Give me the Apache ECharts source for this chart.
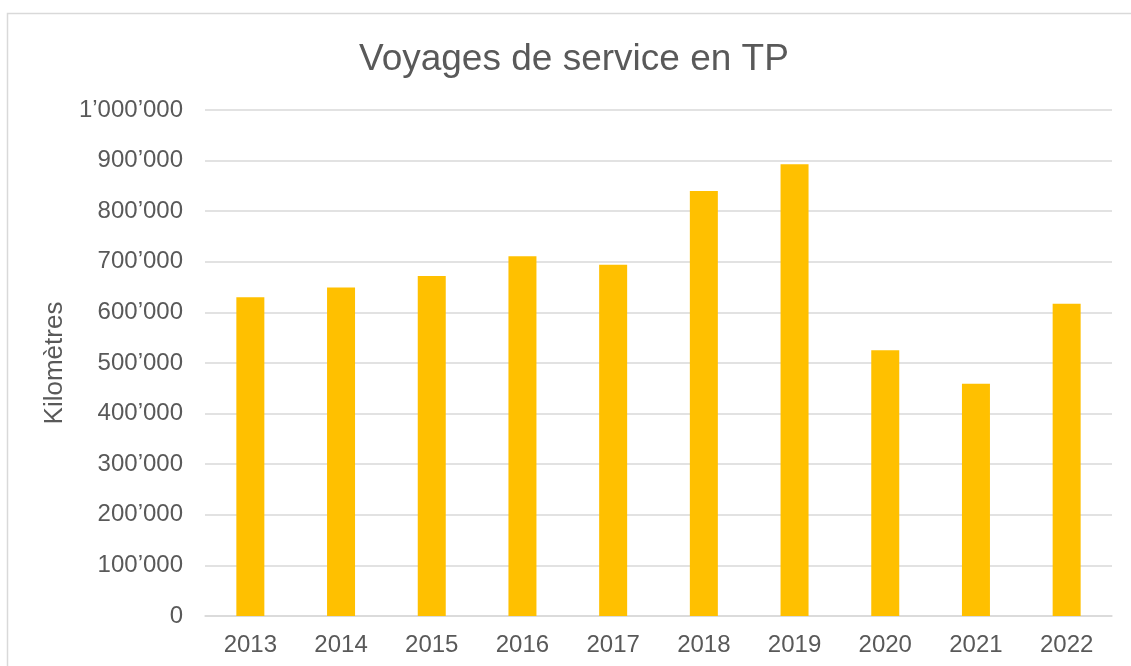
<!DOCTYPE html>
<html>
<head>
<meta charset="utf-8">
<script src="https://cdn.jsdelivr.net/npm/echarts@6/dist/echarts.min.js"></script>
<style>
  html, body { margin: 0; padding: 0; background: #fff; }
  #chart { width: 1131px; height: 666px; }
</style>
</head>
<body>
<div id="chart"></div>
<script>
const years = ['2013', '2014', '2015', '2016', '2017', '2018', '2019', '2020', '2021', '2022'];
const km = [630000, 649000, 672000, 711000, 694000, 840000, 893000, 525000, 459000, 617000];

var myChart = echarts.init(document.getElementById('chart'));

// 1'000'000 style with typographic apostrophe
function fmt(v) {
    return String(v).replace(/\B(?=(\d{3})+(?!\d))/g, '\u2019');
}

const option = {
    backgroundColor: '#FFF',
    textStyle: { fontFamily: 'Liberation Sans, Arial, sans-serif' },
    graphic: [
        {
            type: 'rect',
            shape: { x: 7.5, y: 13.5, width: 1130, height: 700 },
            style: { fill: 'none', stroke: '#d9d9d9', lineWidth: 1.5 },
            silent: true
        }
    ],
    title: {
        text: 'Voyages de service en TP',
        left: 354,
        top: 36,
        textStyle: {
            color: '#595959',
            fontSize: 37,
            fontWeight: 'normal',
            fontFamily: 'Liberation Sans, Arial, sans-serif'
        }
    },
    grid: {
        left: 205,
        right: 19,
        top: 110,
        bottom: 50
    },
    xAxis: {
        type: 'category',
        data: years,
        axisLine: { show: true, lineStyle: { color: '#d9d9d9', width: 1.5 } },
        axisTick: { show: false },
        axisLabel: { color: '#595959', fontSize: 24, margin: 17 }
    },
    yAxis: {
        type: 'value',
        min: 0,
        max: 1000000,
        interval: 100000,
        name: 'Kilomètres',
        nameLocation: 'middle',
        nameGap: 135,
        nameTextStyle: { color: '#595959', fontSize: 26 },
        axisLine: { show: false },
        axisTick: { show: false },
        splitLine: { lineStyle: { color: '#d9d9d9', width: 1.5 } },
        axisLabel: {
            color: '#595959',
            fontSize: 24,
            margin: 22,
            formatter: fmt
        }
    },
    series: [
        {
            type: 'bar',
            data: km,
            barWidth: 28,
            itemStyle: { color: '#FFC000' }
        }
    ]
};

option && myChart.setOption(option);
</script>
</body>
</html>
